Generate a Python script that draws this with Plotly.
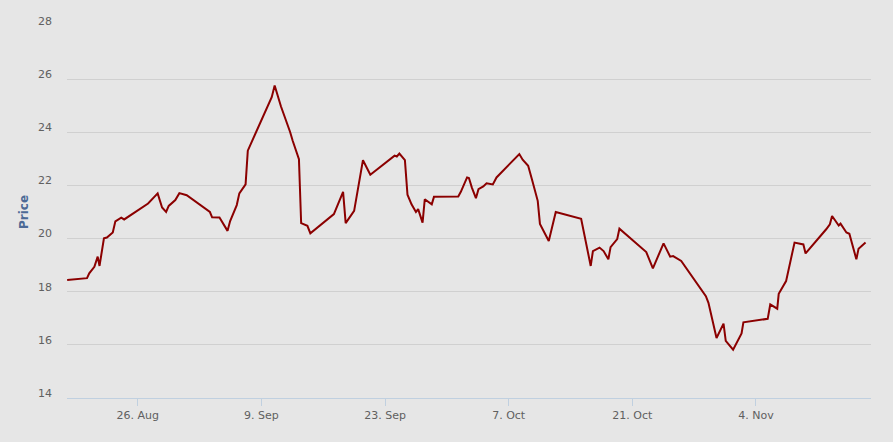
import plotly.graph_objects as go

dates = [
    "2013-08-18 00:00", "2013-08-20 06:00", "2013-08-20 12:00", "2013-08-21 02:00",
    "2013-08-21 11:00", "2013-08-21 16:00", "2013-08-22 04:00", "2013-08-22 12:00",
    "2013-08-23 04:00", "2013-08-23 11:00", "2013-08-24 03:00", "2013-08-24 11:00",
    "2013-08-27 04:00", "2013-08-28 06:00", "2013-08-28 18:00", "2013-08-29 05:00",
    "2013-08-29 12:00", "2013-08-30 06:00", "2013-08-30 17:00", "2013-08-31 13:00",
    "2013-09-03 04:00", "2013-09-03 10:00", "2013-09-04 06:00", "2013-09-05 04:00",
    "2013-09-05 11:00", "2013-09-06 05:00", "2013-09-06 12:00", "2013-09-07 05:00",
    "2013-09-07 11:00", "2013-09-10 04:00", "2013-09-10 12:00", "2013-09-11 05:00",
    "2013-09-12 06:00", "2013-09-12 13:00", "2013-09-13 06:00", "2013-09-13 12:00",
    "2013-09-14 05:00", "2013-09-14 13:00", "2013-09-17 05:00", "2013-09-18 06:00",
    "2013-09-18 13:00", "2013-09-19 12:00", "2013-09-20 12:00", "2013-09-21 08:00",
    "2013-09-24 02:00", "2013-09-24 08:00", "2013-09-24 15:00", "2013-09-25 06:00",
    "2013-09-25 13:00", "2013-09-26 00:00", "2013-09-26 12:00", "2013-09-26 18:00",
    "2013-09-27 06:00", "2013-09-27 12:00", "2013-09-28 07:00", "2013-09-28 13:00",
    "2013-10-01 07:00", "2013-10-01 14:00", "2013-10-02 07:00", "2013-10-02 12:00",
    "2013-10-02 20:00", "2013-10-03 07:00", "2013-10-03 14:00", "2013-10-04 03:00",
    "2013-10-04 12:00", "2013-10-05 05:00", "2013-10-05 15:00", "2013-10-08 05:00",
    "2013-10-08 14:00", "2013-10-09 05:00", "2013-10-09 15:00", "2013-10-10 07:00",
    "2013-10-10 13:00", "2013-10-11 13:00", "2013-10-12 08:00", "2013-10-15 05:00",
    "2013-10-16 07:00", "2013-10-16 13:00", "2013-10-17 07:00", "2013-10-17 18:00",
    "2013-10-18 07:00", "2013-10-18 13:00", "2013-10-19 07:00", "2013-10-19 13:00",
    "2013-10-22 14:00", "2013-10-23 08:00", "2013-10-24 13:00", "2013-10-25 07:00",
    "2013-10-25 15:00", "2013-10-26 13:00", "2013-10-29 08:00", "2013-10-29 15:00",
    "2013-10-30 13:00", "2013-10-31 08:00", "2013-10-31 14:00", "2013-11-01 10:00",
    "2013-11-02 09:00", "2013-11-02 14:00", "2013-11-05 08:00", "2013-11-05 15:00",
    "2013-11-06 10:00", "2013-11-06 14:00", "2013-11-07 10:00", "2013-11-08 09:00",
    "2013-11-09 09:00", "2013-11-09 15:00", "2013-11-11 23:00", "2013-11-12 09:00",
    "2013-11-12 15:00", "2013-11-13 09:00", "2013-11-13 14:00", "2013-11-14 06:00",
    "2013-11-14 14:00", "2013-11-15 09:00", "2013-11-15 15:00", "2013-11-16 10:00",
]

prices = [
    18.44, 18.51, 18.69, 18.94, 19.32, 18.97, 20.01, 20.04,
    20.23, 20.65, 20.79, 20.72, 21.32, 21.70, 21.17, 21.00,
    21.23, 21.45, 21.71, 21.63, 21.00, 20.80, 20.79, 20.29,
    20.66, 21.26, 21.70, 22.04, 23.31, 25.32, 25.76, 24.98,
    24.01, 23.68, 22.99, 20.58, 20.48, 20.20, 20.92, 21.76,
    20.58, 21.04, 22.95, 22.40, 23.12, 23.09, 23.20, 22.95,
    21.65, 21.29, 21.00, 21.11, 20.60, 21.48, 21.29, 21.57,
    21.58, 21.76, 22.30, 22.28, 21.92, 21.52, 21.86, 21.96,
    22.08, 22.04, 22.30, 23.18, 22.97, 22.74, 22.24, 21.42,
    20.55, 19.91, 21.00, 20.74, 18.97, 19.53, 19.66, 19.53,
    19.22, 19.68, 19.98, 20.37, 19.49, 18.88, 19.82, 19.32,
    19.34, 19.16, 17.83, 17.58, 16.26, 16.80, 16.15, 15.82,
    16.43, 16.85, 16.98, 17.52, 17.36, 17.92, 18.40, 19.85,
    19.78, 19.44, 20.35, 20.54, 20.85, 20.49, 20.56, 20.23,
    20.18, 19.22, 19.62, 19.85,
]

y_ticks = [14, 16, 18, 20, 22, 24, 26, 28]
x_range = ["2013-08-17 23:36", "2013-11-17 00:48"]
axis_title = "Price"

fig = go.Figure()
fig.add_trace(go.Scatter(
    x=dates, y=prices, mode="lines",
    line=dict(color="#8b0000", width=2),
    hoverinfo="x+y", showlegend=False,
))

fig.update_layout(
    width=893, height=442,
    margin=dict(l=67, r=22, t=26, b=44),
    paper_bgcolor="#e6e6e6", plot_bgcolor="#e6e6e6",
    font=dict(family="DejaVu Sans", size=11, color="#606060"),
    xaxis=dict(
        type="date", range=x_range,
        tick0="2013-08-26", dtick=14 * 86400000,
        tickformat="%-d. %b",
        showgrid=False, zeroline=False,
        showline=True, linecolor="#c0d0e0", linewidth=1,
        ticks="outside", ticklen=7, tickcolor="#c0d0e0", tickwidth=1,
        tickfont=dict(family="DejaVu Sans", size=11, color="#606060"),
    ),
    yaxis=dict(
        range=[14, 28], tickvals=y_ticks,
        showgrid=True, gridcolor="#d0d0d0", gridwidth=1,
        zeroline=False, showline=False,
        ticks="", ticklabelstandoff=14, ticklabelshift=-5,
        tickfont=dict(family="DejaVu Sans", size=11, color="#606060"),
    ),
    annotations=[dict(
        text="<b>" + axis_title + "</b>", textangle=-90,
        xref="paper", yref="paper", x=-0.0535, y=0.5,
        xanchor="center", yanchor="middle", showarrow=False,
        font=dict(family="DejaVu Sans", size=12, color="#4d6a96"),
    )],
)

fig.write_html(
    "out.html",
    config={"displayModeBar": False},
    post_script="document.body.style.margin='0';document.body.style.background='#e6e6e6';",
)
